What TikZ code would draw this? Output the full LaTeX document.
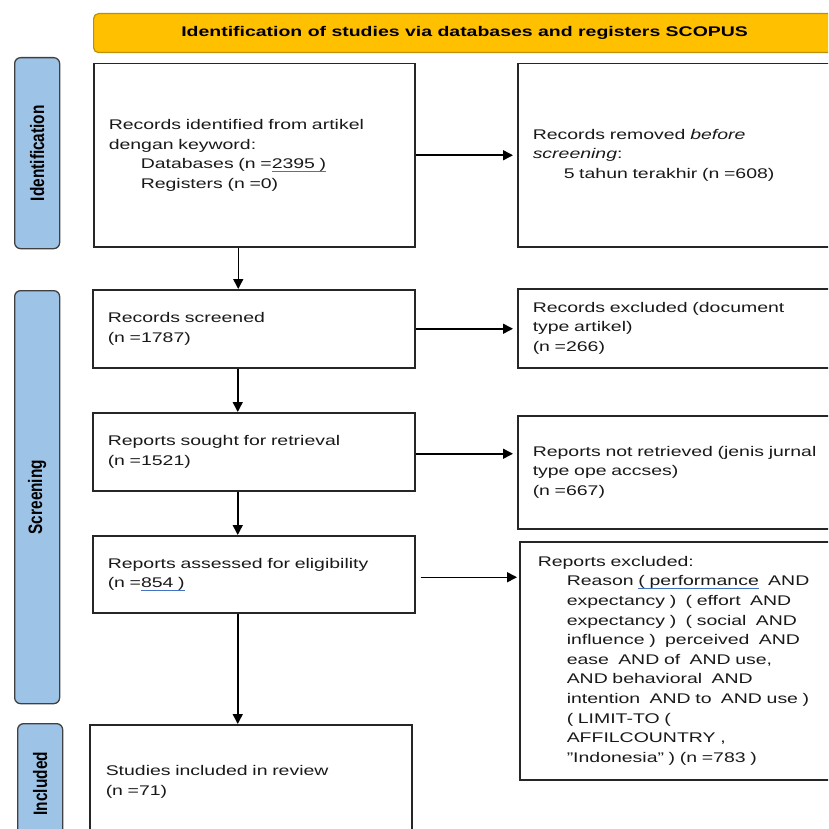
\documentclass[tikz,border=0pt]{standalone}
\usepackage{fontspec}
\setmainfont{Liberation Sans}[FakeStretch=1.39]
\newfontfamily\sidefont{Liberation Sans}
\usetikzlibrary{arrows.meta}
\definecolor{hdrfill}{HTML}{FFC000}
\definecolor{hdrdraw}{HTML}{BF9000}
\definecolor{sidefill}{HTML}{9DC3E6}
\definecolor{ulblue}{HTML}{4472C4}
\newsavebox{\ulbox}
\newcommand{\blueul}[1]{\sbox{\ulbox}{#1}\rlap{\textcolor{ulblue}{\rule[-3pt]{\wd\ulbox}{0.9pt}}}\usebox{\ulbox}}
\newcommand{\sidelabel}[1]{\rotatebox{90}{\scalebox{1.1}[1.39]{\sidefont\bfseries\fontsize{14}{16}\selectfont #1}}}
\begin{document}
\begin{tikzpicture}[x=1pt,y=-1pt,
  box/.style={draw=black!85, line width=1.5pt, anchor=north west, align=left,
    inner xsep=15pt, inner ysep=0pt, text=black!90, font=\fontsize{14}{19.6}\selectfont},
  side/.style={draw=black!75, fill=sidefill, line width=1.3pt, rounded corners=6pt,
    anchor=north west, inner sep=0pt},
  hdr/.style={draw=hdrdraw, fill=hdrfill, line width=1.2pt, rounded corners=5pt,
    anchor=north west, inner sep=0pt, font=\bfseries\fontsize{14}{16}\selectfont},
  arr/.style={line width=1.5pt, -{Triangle[length=10pt,width=10pt]}},
]
\useasboundingbox (0,0) rectangle (828,829);
\clip (0,0) rectangle (828,829);

% header
\node[hdr, minimum width=742pt, minimum height=39pt] (hdr) at (93,13)
  {Identification of studies via databases and registers SCOPUS};

% side labels
\node[side, minimum width=45pt, minimum height=191pt] (sid) at (14,57) {\sidelabel{Identification}};
\node[side, minimum width=45pt, minimum height=413pt] (sscr) at (14,290) {\sidelabel{Screening}};
\node[side, minimum width=45pt, minimum height=120pt] (sinc) at (17,723) {\sidelabel{Included}};

% left column
\node[box, text width=291pt, minimum width=321pt, minimum height=183pt] (b1) at (93,63)
  {Records identified from artikel\\
   dengan keyword:\\
   \hspace*{32pt}Databases (n =\blueul{2395 )}\\
   \hspace*{32pt}Registers (n =0)};
\node[box, text width=292pt, minimum width=322pt, minimum height=78pt] (b3) at (92,289)
  {Records screened\\(n =1787)};
\node[box, text width=292pt, minimum width=322pt, minimum height=78pt] (b5) at (92,412)
  {Reports sought for retrieval\\(n =1521)};
\node[box, text width=292pt, minimum width=322pt, minimum height=77pt] (b7) at (92,535)
  {Reports assessed for eligibility\\(n =\blueul{854 )}};
\node[box, inner xsep=16pt, text width=290pt, minimum width=322pt, minimum height=114pt] (b9) at (89,724)
  {Studies included in review\\(n =71)};

% right column
\node[box, text width=303pt, minimum width=333pt, minimum height=183pt] (b2) at (517,63)
  {Records removed \textit{before}\\
   \textit{screening}:\\
   \hspace*{31pt}5 tahun terakhir (n =608)};
\node[box, text width=303pt, minimum width=333pt, minimum height=79pt] (b4) at (517,288)
  {Records excluded (document\\type artikel)\\(n =266)};
\node[box, text width=303pt, minimum width=333pt, minimum height=113pt] (b6) at (517,415)
  {Reports not retrieved (jenis jurnal\\type ope accses)\\(n =667)};
\node[box, inner xsep=18pt, text width=295pt, minimum width=331pt, minimum height=238pt] (b8) at (519,541)
  {Reports excluded:\\
   \hspace*{29pt}Reason \blueul{( performance}~ AND\\
   \hspace*{29pt}expectancy )~ ( effort~ AND\\
   \hspace*{29pt}expectancy )~ ( social~ AND\\
   \hspace*{29pt}influence )~ perceived~ AND\\
   \hspace*{29pt}ease~ AND of~ AND use,\\
   \hspace*{29pt}AND behavioral~ AND\\
   \hspace*{29pt}intention~ AND to~ AND use )\\
   \hspace*{29pt}( LIMIT-TO (\\
   \hspace*{29pt}AFFILCOUNTRY ,\\
   \hspace*{29pt}"Indonesia" ) (n =783 )};

% arrows
\draw[arr, shorten >=4pt] (b1.east) -- (b1.east -| b2.west);
\draw[arr, shorten >=4pt] (b3.east) -- (b3.east -| b4.west);
\draw[arr, shorten >=4pt] ([yshift=-2pt]b5.east) -- ([yshift=-2pt]b5.east -| b6.west);
\draw[arr, shorten <=5pt, shorten >=2pt] ([yshift=-3pt]b7.east) -- ([yshift=-3pt]b7.east -| b8.west);

\draw[arr] ([xshift=-16pt]b1.south) -- ([xshift=-16pt]b1.south |- b3.north);
\draw[arr] ([xshift=-16pt]b3.south) -- ([xshift=-16pt]b3.south |- b5.north);
\draw[arr] ([xshift=-16pt]b5.south) -- ([xshift=-16pt]b5.south |- b7.north);
\draw[arr] ([xshift=-16pt]b7.south) -- ([xshift=-16pt]b7.south |- b9.north);
\end{tikzpicture}
\end{document}
